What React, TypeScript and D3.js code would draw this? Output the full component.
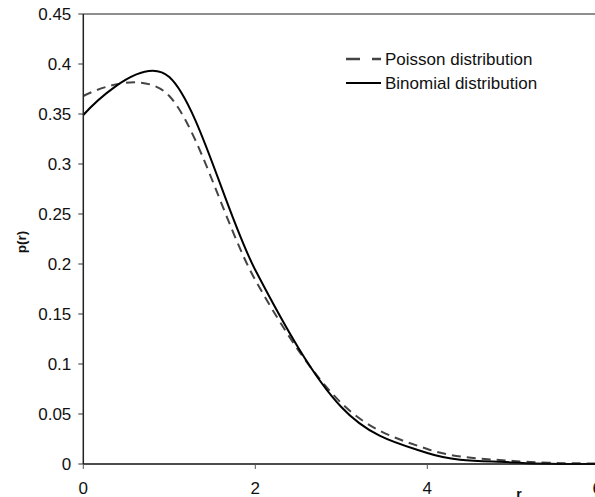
import React from "react";
import * as d3 from "d3";

const rValues = [0, 1, 2, 3, 4, 5, 6];
const poisson = [0.368, 0.368, 0.184, 0.061, 0.015, 0.003, 0.0005];
const binomial = [0.349, 0.387, 0.194, 0.057, 0.011, 0.0015, 0.0001];
const yTicks = [0, 0.05, 0.1, 0.15, 0.2, 0.25, 0.3, 0.35, 0.4, 0.45];
const xTicks = [0, 2, 4, 6];

const W = 595;
const H = 497;

export default function App() {
  const x = d3.scaleLinear().domain([0, 6]).range([83.3, 599.3]);
  const y = d3.scaleLinear().domain([0, 0.45]).range([464, 14]);
  const line = d3
    .line<number>()
    .x((_, i) => x(rValues[i]))
    .y((d) => y(d))
    .curve(d3.curveCardinal.tension(0));
  const font = "'Liberation Sans', Arial, sans-serif";
  const yFmt = (v: number) => (v === 0 ? "0" : String(+v.toFixed(2)));
  return (
    <svg
      width={W}
      height={H}
      style={{ position: "absolute", left: 0, top: 0, background: "#fff" }}
      fontFamily={font}
    >
      <rect x={0} y={0} width={W} height={H} fill="#fff" />
      {/* top border */}
      <line x1={x(0)} x2={W} y1={y(0.45)} y2={y(0.45)} stroke="#6a6a6a" strokeWidth={1.5} />
      {/* curves */}
      <path d={line(poisson) || ""} fill="none" stroke="#444" strokeWidth={2} strokeDasharray="9,6" />
      <path d={line(binomial) || ""} fill="none" stroke="#000" strokeWidth={2} />
      {/* y axis */}
      <line x1={x(0)} x2={x(0)} y1={y(0.45)} y2={y(0)} stroke="#222" strokeWidth={1.5} />
      {yTicks.map((t) => (
        <g key={t}>
          <line x1={x(0) - 5} x2={x(0)} y1={y(t)} y2={y(t)} stroke="#333" strokeWidth={1} />
          <text x={x(0) - 12} y={y(t)} dy="0.36em" textAnchor="end" fontSize={17} fill="#111">
            {yFmt(t)}
          </text>
        </g>
      ))}
      {/* x axis */}
      <line x1={x(0)} x2={W} y1={y(0)} y2={y(0)} stroke="#111" strokeWidth={1.5} />
      {xTicks.map((t) => (
        <g key={t}>
          <line x1={x(t)} x2={x(t)} y1={y(0)} y2={y(0) + 5} stroke="#555" strokeWidth={1} />
          <text x={x(t) - (t === 6 ? 2 : 0)} y={494} textAnchor="middle" fontSize={17} fill="#111">
            {t}
          </text>
        </g>
      ))}
      <text x={519} y={499} textAnchor="middle" fontSize={14} fontWeight="bold" fill="#111">
        r
      </text>
      <text
        transform={`translate(26,242) rotate(-90)`}
        textAnchor="middle"
        fontSize={13.5}
        fontWeight="bold"
        fill="#111"
      >
        p(r)
      </text>
      {/* legend */}
      <line x1={346} x2={381} y1={59} y2={59} stroke="#444" strokeWidth={2.5} strokeDasharray="14,12" />
      <text x={385} y={59} dy="0.36em" fontSize={17} fill="#111">
        Poisson distribution
      </text>
      <line x1={346} x2={381} y1={83} y2={83} stroke="#000" strokeWidth={2} />
      <text x={385} y={83} dy="0.36em" fontSize={17} fill="#111">
        Binomial distribution
      </text>
    </svg>
  );
}
